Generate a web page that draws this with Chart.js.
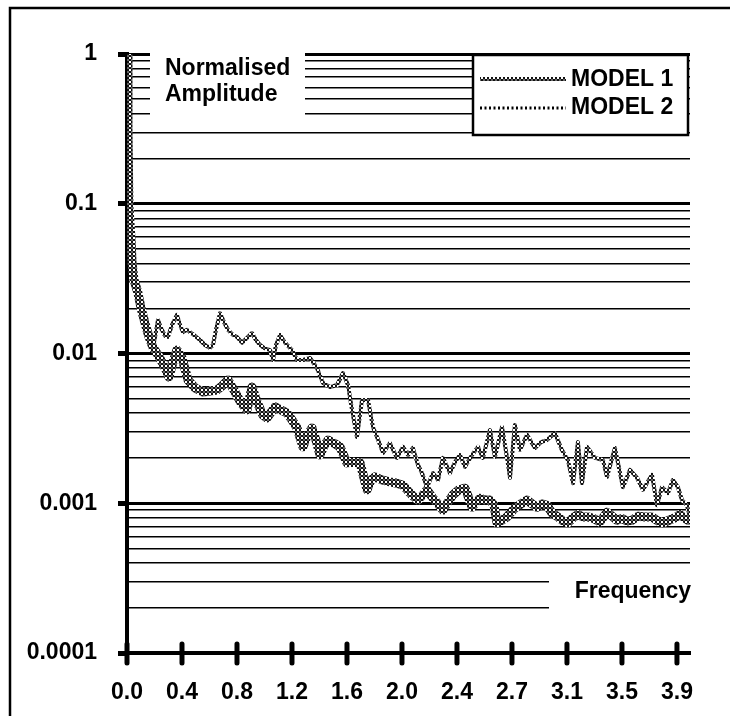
<!DOCTYPE html>
<html>
<head>
<meta charset="utf-8">
<script src="https://cdn.jsdelivr.net/npm/chart.js@4/dist/chart.umd.min.js"></script>
<style>
  body { margin: 0; background: #fff; }
</style>
</head>
<body>
<canvas id="canvas" width="730" height="716"></canvas>
<script>
// valores
var xTickValues = [0, 0.392, 0.784, 1.176, 1.568, 1.96, 2.352, 2.744, 3.136, 3.528, 3.92];
var xTickLabels = ['0.0', '0.4', '0.8', '1.2', '1.6', '2.0', '2.4', '2.7', '3.1', '3.5', '3.9'];
var yTickValues = [0.0001, 0.001, 0.01, 0.1, 1];
var yTickLabels = ['0.0001', '0.001', '0.01', '0.1', '1'];
var seriesNames = ['MODEL 1', 'MODEL 2'];

var freq1 = [0, 0.007, 0.014, 0.029, 0.036, 0.050, 0.078, 0.100, 0.128, 0.157, 0.185, 0.221, 0.249, 0.278, 0.299,
  0.328, 0.356, 0.392, 0.435, 0.485, 0.542, 0.592, 0.641, 0.677, 0.720, 0.770, 0.813, 0.855, 0.891, 0.927,
  0.969, 0.998, 1.055, 1.098, 1.140, 1.176, 1.212, 1.254, 1.283, 1.319, 1.347, 1.376, 1.404, 1.433, 1.475,
  1.518, 1.568, 1.611, 1.661, 1.689, 1.711, 1.739, 1.768, 1.817, 1.874, 1.924, 1.967, 2.017, 2.046, 2.074,
  2.110, 2.138, 2.181, 2.217, 2.252, 2.288, 2.324, 2.366, 2.409, 2.437, 2.459, 2.487, 2.516, 2.552, 2.587,
  2.616, 2.637, 2.673, 2.708, 2.737, 2.765, 2.808, 2.851, 2.887, 2.922, 2.958, 2.993, 3.029, 3.072, 3.108,
  3.143, 3.179, 3.214, 3.250, 3.286, 3.328, 3.371, 3.421, 3.457, 3.492, 3.528, 3.564, 3.599, 3.642, 3.692,
  3.742, 3.785, 3.820, 3.863, 3.906, 3.941, 3.963, 3.998];
var amp1 = [1, 0.311, 0.095, 0.0573, 0.0402, 0.031, 0.0254, 0.0201, 0.0160, 0.0129, 0.0110, 0.00977, 0.00877, 0.00776, 0.00697,
  0.00877, 0.01055, 0.00933, 0.00665, 0.00589, 0.00553, 0.00562, 0.00570, 0.00607, 0.00665, 0.00553, 0.00467, 0.00420, 0.00597, 0.00474,
  0.00388, 0.00371, 0.00440, 0.00420, 0.00401, 0.00360, 0.00318, 0.00238, 0.00281, 0.00318, 0.00264, 0.00210, 0.00241, 0.00264, 0.00252,
  0.00238, 0.00186, 0.00188, 0.00186, 0.00148, 0.00123, 0.00143, 0.00150, 0.00143, 0.00139, 0.00136, 0.00132, 0.00117, 0.00110, 0.00105,
  0.00114, 0.00123, 0.00108, 0.00099, 0.00090, 0.00102, 0.00114, 0.00123, 0.00126, 0.00108, 0.00094, 0.00102, 0.00108, 0.00105, 0.00105,
  0.00097, 0.00074, 0.00077, 0.00081, 0.00087, 0.00093, 0.00099, 0.00105, 0.00099, 0.00094, 0.00099, 0.00097, 0.00086, 0.00081, 0.00076,
  0.00074, 0.00080, 0.00084, 0.00081, 0.00081, 0.00079, 0.00075, 0.00087, 0.00082, 0.00077, 0.00079, 0.00076, 0.00077, 0.00082, 0.00081,
  0.00081, 0.00076, 0.00074, 0.00077, 0.00080, 0.00084, 0.00081, 0.00077];

var freq2 = [0, 0.007, 0.014, 0.029, 0.036, 0.050, 0.078, 0.100, 0.128, 0.157, 0.185, 0.200, 0.221, 0.242, 0.271,
  0.292, 0.321, 0.356, 0.378, 0.399, 0.428, 0.449, 0.485, 0.520, 0.556, 0.592, 0.613, 0.634, 0.663, 0.691,
  0.720, 0.755, 0.784, 0.820, 0.855, 0.891, 0.919, 0.948, 0.976, 1.019, 1.041, 1.062, 1.091, 1.126, 1.176,
  1.212, 1.254, 1.304, 1.354, 1.397, 1.447, 1.497, 1.540, 1.575, 1.604, 1.639, 1.675, 1.718, 1.753, 1.782,
  1.825, 1.874, 1.924, 1.967, 2.003, 2.038, 2.074, 2.103, 2.138, 2.181, 2.217, 2.252, 2.302, 2.338, 2.373,
  2.409, 2.459, 2.502, 2.537, 2.587, 2.623, 2.673, 2.708, 2.730, 2.765, 2.801, 2.851, 2.908, 2.951, 2.993,
  3.050, 3.100, 3.143, 3.179, 3.214, 3.243, 3.279, 3.336, 3.393, 3.421, 3.478, 3.535, 3.585, 3.635, 3.678,
  3.742, 3.778, 3.813, 3.856, 3.891, 3.927, 3.956, 3.991, 4.013];
var amp2 = [1, 0.311, 0.095, 0.0573, 0.0402, 0.031, 0.0254, 0.0201, 0.0160, 0.0129, 0.0110, 0.0129, 0.01675, 0.0148, 0.0131,
  0.0129, 0.0155, 0.0181, 0.0155, 0.0139, 0.0144, 0.0139, 0.0131, 0.0123, 0.0114, 0.0109, 0.0114, 0.0144, 0.0186, 0.0162,
  0.0144, 0.0133, 0.0129, 0.0118, 0.0127, 0.0137, 0.0123, 0.0114, 0.0109, 0.01055, 0.00905, 0.0114, 0.0133, 0.0118, 0.01055,
  0.00905, 0.00905, 0.00933, 0.00800, 0.00635, 0.00597, 0.00616, 0.00741, 0.00616, 0.00420, 0.00277, 0.00489, 0.00489, 0.00323, 0.00277,
  0.00217, 0.00252, 0.00201, 0.00238, 0.00210, 0.00234, 0.00180, 0.00159, 0.00128, 0.00159, 0.00143, 0.00201, 0.00159, 0.00188, 0.00210,
  0.00175, 0.00210, 0.00238, 0.00201, 0.00308, 0.00204, 0.00323, 0.00204, 0.00148, 0.00333, 0.00227, 0.00286, 0.00234, 0.00256, 0.00264,
  0.00294, 0.00227, 0.00194, 0.00136, 0.00256, 0.00136, 0.00238, 0.00201, 0.00194, 0.00150, 0.00234, 0.00128, 0.00167, 0.00148, 0.00123,
  0.00155, 0.00097, 0.00128, 0.00117, 0.00143, 0.00128, 0.00105, 0.00097, 0.00081];

// textura de anillos para las curvas
function ringPattern() {
  var c = document.createElement('canvas');
  c.width = 4; c.height = 4;
  var g = c.getContext('2d');
  g.fillStyle = '#111';
  g.fillRect(0, 0, 4, 4);
  g.fillStyle = '#666';
  [[0,0],[3,0],[0,3],[3,3]].forEach(function(p) { g.fillRect(p[0], p[1], 1, 1); });
  g.fillStyle = '#fff';
  g.fillRect(1, 1, 2, 2);
  return g.createPattern(c, 'repeat');
}
var ring = ringPattern();

function toPoints(xs, ys) {
  return xs.map(function(x, i) { return { x: x, y: ys[i] }; });
}
function isDecade(v) {
  var l = Math.log10(v);
  return Math.abs(l - Math.round(l)) < 1e-6;
}

var FAMILY = '"Liberation Sans", Arial, sans-serif';
var FONT = 'bold 23px ' + FAMILY;

var decor = {
  id: 'decor',
  beforeDraw: function(chart) {
    var c = chart.ctx;
    c.save();
    c.fillStyle = '#fff';
    c.fillRect(0, 0, chart.width, chart.height);
    c.restore();
  },
  afterDraw: function(chart) {
    var c = chart.ctx, a = chart.chartArea, xs = chart.scales.x;
    c.save();
    // marcas del eje x que cruzan el eje
    c.strokeStyle = '#000';
    c.lineWidth = 5;
    c.lineCap = 'round';
    xTickValues.forEach(function(v) {
      var px = xs.getPixelForValue(v);
      c.beginPath(); c.moveTo(px, a.bottom - 9); c.lineTo(px, a.bottom + 10); c.stroke();
    });
    // rótulos de los ejes sobre fondo blanco
    c.fillStyle = '#fff';
    c.fillRect(150, 50, 155, 73);
    c.fillRect(549, 573, 150, 45);
    c.fillStyle = '#000';
    c.font = FONT;
    c.textAlign = 'left';
    c.textBaseline = 'alphabetic';
    c.fillText('Normalised', 165, 75);
    c.fillText('Amplitude', 165, 101);
    c.textAlign = 'right';
    c.fillText('Frequency', 691, 598);
    // leyenda
    c.fillStyle = '#fff';
    c.fillRect(473, 55, 215, 80);
    c.strokeStyle = '#000';
    c.lineWidth = 2.5;
    c.lineCap = 'butt';
    c.strokeRect(473, 55, 215, 80);
    c.lineWidth = 4;
    c.strokeStyle = ring;
    c.beginPath(); c.moveTo(480, 79); c.lineTo(566, 79); c.stroke();
    c.strokeStyle = '#000';
    c.lineWidth = 3;
    c.setLineDash([2, 2.5]);
    c.beginPath(); c.moveTo(480, 108); c.lineTo(566, 108); c.stroke();
    c.setLineDash([]);
    c.fillStyle = '#000';
    c.textAlign = 'left';
    c.fillText(chart.data.datasets[0].label, 571, 86);
    c.fillText(chart.data.datasets[1].label, 571, 114);
    // marco exterior
    c.lineWidth = 2.5;
    c.beginPath(); c.moveTo(10, chart.height); c.lineTo(10, 8); c.lineTo(chart.width, 8); c.stroke();
    c.restore();
  }
};

var chart = new Chart(document.getElementById('canvas'), {
  type: 'line',
  data: {
    datasets: [{
      label: seriesNames[0],
      data: toPoints(freq1, amp1),
      borderColor: ring,
      borderWidth: 9,
      pointRadius: 0,
      tension: 0,
      borderJoinStyle: 'round',
      borderCapStyle: 'round'
    }, {
      label: seriesNames[1],
      data: toPoints(freq2, amp2),
      borderColor: ring,
      borderWidth: 4,
      pointRadius: 0,
      tension: 0,
      borderJoinStyle: 'round'
    }]
  },
  options: {
    responsive: false,
    animation: false,
    layout: { padding: { top: 54, right: 40, left: 0, bottom: 0 } },
    plugins: { legend: { display: false }, tooltip: { enabled: false } },
    scales: {
      x: {
        type: 'linear',
        min: 0,
        max: 4.013,
        afterFit: function(s) { s.height = 63; },
        afterBuildTicks: function(s) {
          s.ticks = xTickValues.map(function(v) { return { value: v }; });
        },
        grid: { display: false, drawTicks: false },
        border: { display: true, color: '#000', width: 4 },
        ticks: {
          padding: 26,
          color: '#000',
          font: { family: FAMILY, size: 23, weight: 'bold' },
          maxRotation: 0,
          autoSkip: false,
          callback: function(v, i) { return xTickLabels[i]; }
        }
      },
      y: {
        type: 'logarithmic',
        min: 0.0001,
        max: 1,
        afterFit: function(s) { s.width = 127; },
        afterBuildTicks: function(s) {
          var t = [];
          for (var d = 0; d < yTickValues.length; d++) {
            var base = yTickValues[d];
            t.push({ value: base, major: true });
            if (d < yTickValues.length - 1) {
              for (var m = 2; m <= 9; m++) t.push({ value: base * m });
            }
          }
          s.ticks = t;
        },
        grid: {
          color: '#000',
          lineWidth: function(ctx) { return ctx.tick && isDecade(ctx.tick.value) ? 3 : 1.4; },
          drawTicks: true,
          tickLength: 9,
          tickWidth: function(ctx) { return ctx.tick && isDecade(ctx.tick.value) ? 5 : 0; },
          tickColor: function(ctx) { return ctx.tick && isDecade(ctx.tick.value) ? '#000' : 'rgba(0,0,0,0)'; }
        },
        border: { display: true, color: '#000', width: 4 },
        ticks: {
          padding: 21,
          color: '#000',
          autoSkip: false,
          font: { family: FAMILY, size: 23, weight: 'bold' },
          callback: function(v) {
            var i = yTickValues.findIndex(function(t) { return Math.abs(t - v) / t < 1e-6; });
            return i >= 0 ? yTickLabels[i] : '';
          }
        }
      }
    }
  },
  plugins: [decor]
});
</script>
</body>
</html>
